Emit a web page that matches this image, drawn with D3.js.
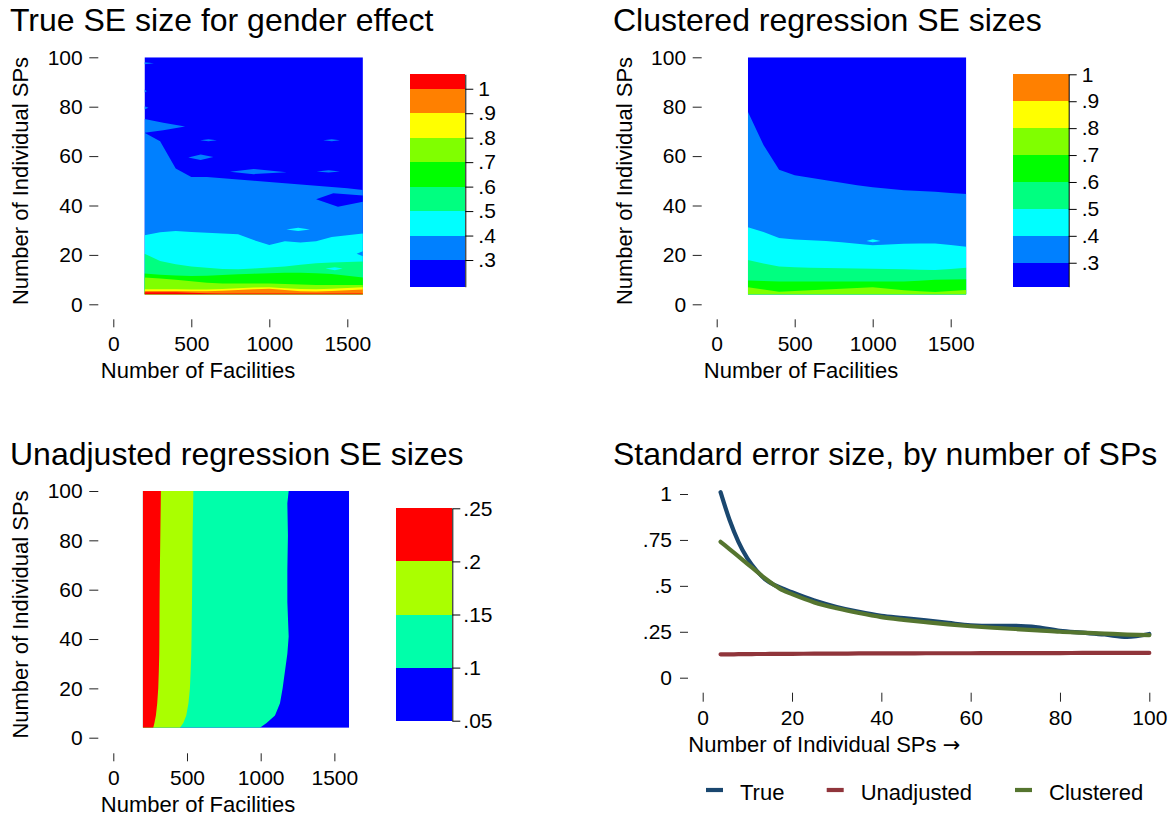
<!DOCTYPE html>
<html><head><meta charset="utf-8">
<script src="https://cdn.jsdelivr.net/npm/d3@7"></script>
<style>
body{margin:0;background:#fff;}
svg{display:block;font-family:"Liberation Sans",Arial,Helvetica,sans-serif;}
</style></head><body>
<svg id="c" width="1172" height="816"></svg>
<script>
// ---------------- DATA ----------------
const facilities = [200,300,400,500,600,700,800,900,1000,1100,1200,1300,1400,1500,1600];
const facTicks = [0,500,1000,1500];
const spTicks = [0,20,40,60,80,100];
const hueColors = ["#0000ff","#0080ff","#00ffff","#00ff80","#00ff00","#80ff00","#ffff00","#ff8000","#ff0000"];

// Panel 1: true SE (contour boundaries: number of SPs at which SE crosses each level)
const trueLevels = [0.3,0.4,0.5,0.6,0.7,0.8,0.9,1.0];
const trueRange = [0.191,1.059];
const trueB30 = [69.5,66,55,51.5,51.5,51,50.5,50,49.5,49,48.5,48,47.5,47,46.3];
const trueB40 = [28,29.2,29.7,29.3,29,28.7,28.4,26,24,25.5,25,25.5,27.2,28,28.7];
const trueB50 = [20.5,17.5,16.2,15.3,14.8,14.3,14.2,14.5,14.9,15.3,16,16.6,16.9,17.1,17.3];
const trueB60 = [12.5,12,11.7,11.5,11.6,11.9,12.2,12.4,12.6,12.8,12.8,12.6,12.3,11.6,10.9];
const trueB70 = [10.9,10.4,9.9,9.3,8.7,8.4,8.4,8.4,8.4,8.2,8,7.8,7.8,7.8,7.8];
const trueB80 = [6.1,6.1,6.1,6.0,6.0,6.2,6.5,6.8,6.9,6.5,6.2,6.1,6.3,6.6,6.9];
const trueB90 = [5.4,5.4,5.4,5.3,5.3,5.5,5.8,6.1,6.3,5.8,5.3,5.2,5.4,5.7,6.0];
const trueB100 = [4.9,4.9,4.9,4.7,4.5,4.4,4.4,4.4,4.4,4.4,4.4,4.4,4.4,4.4,4.4];
// islands: [colour index, polygon of [facilities, SPs]]
const trueIslands = [
  [1, [[200,75],[320,73.5],[460,72],[320,70.5],[200,69.5]]],
  [1, [[200,98],[260,97.6],[200,97.2]]],
  [1, [[200,87],[215,86.3],[200,85.7]]],
  [1, [[200,80.2],[225,79.6],[200,78.9]]],
  [1, [[557,66.4],[610,66.8],[664,66.4],[610,66]]],
  [1, [[1346,66.4],[1400,66.8],[1453,66.4],[1400,66]]],
  [1, [[481,59.4],[560,60.6],[641,59.6],[560,58.4]]],
  [1, [[748,53.7],[900,54.8],[1111,53.5],[900,52.7]]],
  [1, [[1304,53.8],[1380,54.3],[1453,53.8],[1380,53.4]]],
  [0, [[1300,42.5],[1410,45],[1600,44],[1600,41.5],[1440,39.5]]],
  [2, [[1110,30.3],[1185,31],[1260,30.3],[1185,29.7]]],
  [1, [[1600,21.5],[1560,20.5],[1600,19.5]]],
  [2, [[1360,14.5],[1420,15],[1470,14.5],[1420,13.8]]]
];

// Panel 2: clustered SE
const clusLevels = [0.3,0.4,0.5,0.6,0.7,0.8,0.9,1.0];
const clusRange = [0.211,1.0];
const clusB30 = [78,64.5,54.5,52.2,51.2,50.2,49.2,48.2,47.4,46.8,46.2,45.9,45.6,45.1,44.7];
const clusB40 = [31.2,29.3,26.8,26.2,25.9,25.6,25.1,24.5,23.9,24.2,24.5,24.6,24.6,24.0,23.3];
const clusB50 = [17.9,16.5,15.3,15.0,14.8,14.7,14.6,14.5,14.4,14.3,14.2,14.0,13.9,14.3,14.8];
const clusB60 = [9.6,9.4,9.2,9.2,9.2,9.2,9.2,9.2,9.2,9.2,9.2,9.5,9.9,10.0,10.1];
const clusB70 = [6.9,6.0,5.1,5.4,5.7,6.0,6.3,6.6,6.9,6.3,5.7,5.3,5.0,5.4,5.8];
const clusIslands = [
  [2, [[960,25.6],[1000,26.3],[1050,25.6],[1000,25.1]]]
];

// Panel 3: unadjusted SE (boundaries: number of facilities at which SE crosses each level)
const unadjColors = ["#0000ff","#00ffaa","#aaff00","#ff0000"];
const unadjLevels = [0.1,0.15,0.2];
const unadjTicks = [0.05,0.1,0.15,0.2,0.25];
const unadjRange = [0.05,0.25];
const spGrid = [4,6,9,14,20,27,34,41,55,68,82,95,100];
const unadjB10 = [995,1040,1097,1131,1149,1165,1181,1190,1181,1181,1185,1181,1190];
const unadjB15 = [452,475,495,510,520,525,529,531,534,536,538,542,543];
const unadjB20 = [271,279,289,298,305,309,312,313,314,316,319,322,323];

// Panel 4: SE by number of SPs
const spCounts = [4,6,8,10,12,14,16,18,20,25,30,35,40,45,50,55,60,65,70,75,80,85,90,95,100];
const seTrue  = [1.010,0.860,0.740,0.650,0.585,0.535,0.505,0.485,0.465,0.420,0.385,0.358,0.337,0.325,0.312,0.298,0.285,0.282,0.282,0.274,0.255,0.245,0.235,0.222,0.238];
const seUnadj = [0.127,0.127,0.128,0.128,0.129,0.129,0.130,0.130,0.130,0.131,0.131,0.132,0.132,0.132,0.133,0.133,0.133,0.134,0.134,0.134,0.134,0.135,0.135,0.135,0.135];
const seClus  = [0.740,0.700,0.660,0.620,0.580,0.540,0.505,0.475,0.455,0.410,0.378,0.352,0.330,0.315,0.302,0.290,0.280,0.272,0.265,0.258,0.250,0.245,0.240,0.235,0.232];
const seTicks = [0,0.25,0.5,0.75,1];
const lineSeries = ["True","Unadjusted","Clustered"];
const lineColors = ["#1a476f","#90353b","#55752f"];

// ---------------- DRAWING ----------------
const svg = d3.select("#c");
const FONT = '"Liberation Sans",Arial,Helvetica,sans-serif';
const fmt = v => v === 0 ? "0" : d3.format("~g")(v).replace(/^0\./, ".");

function styleAxis(g, fs){
  g.attr("font-family", FONT).attr("font-size", fs);
  g.select(".domain").remove();
  g.selectAll(".tick line").attr("stroke", "#222").attr("stroke-width", 1);
  g.selectAll(".tick text").attr("fill", "#000");
}

function title(x, y, t){
  svg.append("text").attr("x", x).attr("y", y).attr("font-size", 32).attr("fill", "#000").text(t);
}
function yTitle(cx, cy, t){
  svg.append("text").attr("transform", `translate(${cx},${cy}) rotate(-90)`)
    .attr("text-anchor", "middle").attr("dy", "0.35em").attr("font-size", 22).text(t);
}
function xTitle(cx, y, t, anchor){
  return svg.append("text").attr("x", cx).attr("y", y).attr("text-anchor", anchor || "middle")
    .attr("font-size", 22).text(t);
}

function colorbar(x0, x1, yBot, yTop, range, levels, ticks, colors, tsize, tpad){
  const cs = d3.scaleLinear().domain(range).range([yBot, yTop]);
  const edges = [range[0]].concat(levels.filter(l => l > range[0] && l < range[1])).concat([range[1]]);
  const g = svg.append("g");
  g.selectAll("rect").data(d3.pairs(edges)).join("rect")
    .attr("x", x0).attr("width", x1 - x0)
    .attr("y", d => cs(d[1])).attr("height", d => cs(d[0]) - cs(d[1]))
    .attr("fill", (d, i) => colors[i]).attr("shape-rendering", "crispEdges");
  const ax = svg.append("g").attr("transform", `translate(${x1},0)`)
    .call(d3.axisRight(cs).tickValues(ticks).tickFormat(fmt).tickSize(tsize).tickSizeOuter(0).tickPadding(tpad));
  ax.attr("font-family", FONT).attr("font-size", 21);
  ax.select(".domain").attr("stroke", "#000");
  ax.selectAll(".tick line").attr("stroke", "#000");
  ax.selectAll(".tick text").attr("fill", "#000");
}

function facPanel(id, xs, ys, bounds, colors, islands){
  const x0 = xs(200), x1 = xs(1600), yb = ys(4), yt = ys(100);
  svg.append("clipPath").attr("id", id).append("rect")
    .attr("x", x0).attr("y", yt).attr("width", x1 - x0).attr("height", yb - yt);
  const g = svg.append("g").attr("clip-path", `url(#${id})`);
  g.append("rect").attr("x", x0).attr("y", yt).attr("width", x1 - x0).attr("height", yb - yt).attr("fill", colors[0]);
  const area = d3.area().x((d, i) => xs(facilities[i])).y0(ys(4)).y1(d => ys(d));
  bounds.forEach((b, k) => {
    g.append("path").attr("d", area(b)).attr("fill", colors[k + 1]);
  });
  islands.forEach(([ci, pts]) => {
    g.append("path").attr("d", "M" + pts.map(p => [xs(p[0]), ys(p[1])].join(",")).join("L") + "Z")
      .attr("fill", colors[ci]);
  });
}

function facAxes(xs, ys, yAxisX, xAxisY){
  const ya = svg.append("g").attr("transform", `translate(${yAxisX},0)`)
    .call(d3.axisLeft(ys).tickValues(spTicks).tickFormat(fmt).tickSize(9).tickPadding(6.6));
  styleAxis(ya, 21);
  const xa = svg.append("g").attr("transform", `translate(0,${xAxisY})`)
    .call(d3.axisBottom(xs).tickValues(facTicks).tickFormat(d3.format("d")).tickSize(8).tickPadding(8.6));
  styleAxis(xa, 21);
}

// ---- Panel 1 ----
{
  const xs = d3.scaleLinear().domain([0,1600]).range([113.3, 362.9]);
  const ys = d3.scaleLinear().domain([0,100]).range([304.3, 57.3]);
  facPanel("clip1", xs, ys, [trueB30,trueB40,trueB50,trueB60,trueB70,trueB80,trueB90,trueB100], hueColors, trueIslands);
  facAxes(xs, ys, 98.3, 319.3);
  colorbar(410, 465.3, 286.7, 74.3, trueRange, trueLevels, trueLevels, hueColors, 8, 5);
  title(10, 30.7, "True SE size for gender effect");
  yTitle(20.5, 181, "Number of Individual SPs");
  xTitle(198, 378, "Number of Facilities");
}
// ---- Panel 2 ----
{
  const xs = d3.scaleLinear().domain([0,1600]).range([716.7, 966.3]);
  const ys = d3.scaleLinear().domain([0,100]).range([304.3, 57.3]);
  facPanel("clip2", xs, ys, [clusB30,clusB40,clusB50,clusB60,clusB70], hueColors, clusIslands);
  facAxes(xs, ys, 701.7, 319.3);
  colorbar(1013, 1068.7, 286.7, 74.3, clusRange, clusLevels, clusLevels, hueColors, 8, 5);
  title(613, 30.7, "Clustered regression SE sizes");
  yTitle(624, 181, "Number of Individual SPs");
  xTitle(801, 378, "Number of Facilities");
}
// ---- Panel 3 ----
{
  const xs = d3.scaleLinear().domain([0,1600]).range([113.3, 349.1]);
  const ys = d3.scaleLinear().domain([0,100]).range([737.7, 491]);
  const x0 = xs(200), x1 = xs(1600), yb = ys(4), yt = ys(100);
  svg.append("clipPath").attr("id", "clip3").append("rect")
    .attr("x", x0).attr("y", yt).attr("width", x1 - x0).attr("height", yb - yt);
  const g = svg.append("g").attr("clip-path", "url(#clip3)");
  g.append("rect").attr("x", x0).attr("y", yt).attr("width", x1 - x0).attr("height", yb - yt).attr("fill", unadjColors[0]);
  const area = d3.area().y((d, i) => ys(spGrid[i])).x0(xs(200)).x1(d => xs(d));
  [unadjB10, unadjB15, unadjB20].forEach((b, k) => {
    g.append("path").attr("d", area(b)).attr("fill", unadjColors[k + 1]);
  });
  facAxes(xs, ys, 98.3, 753.3);
  colorbar(396, 452.3, 720.7, 508.3, unadjRange, unadjLevels, unadjTicks, unadjColors, 8, 3);
  title(10, 465, "Unadjusted regression SE sizes");
  yTitle(20, 614.5, "Number of Individual SPs");
  xTitle(198, 811.5, "Number of Facilities");
}
// ---- Panel 4 ----
{
  const xs = d3.scaleLinear().domain([0,100]).range([702.7, 1149.3]);
  const ys = d3.scaleLinear().domain([0,1]).range([677.7, 494]);
  const ya = svg.append("g").attr("transform", "translate(688,0)")
    .call(d3.axisLeft(ys).tickValues(seTicks).tickFormat(fmt).tickSize(8).tickPadding(8));
  styleAxis(ya, 21);
  const xa = svg.append("g").attr("transform", "translate(0,692.7)")
    .call(d3.axisBottom(xs).tickValues(spTicks).tickFormat(d3.format("d")).tickSize(9).tickPadding(8.2));
  styleAxis(xa, 21);
  const series = [seTrue, seUnadj, seClus];
  const line = d3.line().x((d, i) => xs(spCounts[i])).y(d => ys(d)).curve(d3.curveMonotoneX);
  series.forEach((s, k) => {
    svg.append("path").attr("d", line(s)).attr("fill", "none")
      .attr("stroke", lineColors[k]).attr("stroke-width", 4.2)
      .attr("stroke-linecap", "round").attr("stroke-linejoin", "round");
  });
  title(613, 465, "Standard error size, by number of SPs");
  const xt = xTitle(688.3, 752, "Number of Individual SPs ", "start");
  xt.append("tspan").attr("font-family", '"DejaVu Sans",sans-serif').attr("font-size", 21).text("\u2192");
  // legend
  const legX = [706, 826.7, 1015];
  const lg = svg.append("g");
  lineSeries.forEach((name, k) => {
    lg.append("line").attr("x1", legX[k]).attr("x2", legX[k] + 17).attr("y1", 790).attr("y2", 790)
      .attr("stroke", lineColors[k]).attr("stroke-width", 4.2);
    lg.append("text").attr("x", legX[k] + 34).attr("y", 800).attr("font-size", 22).text(name);
  });
}
</script>
</body></html>
